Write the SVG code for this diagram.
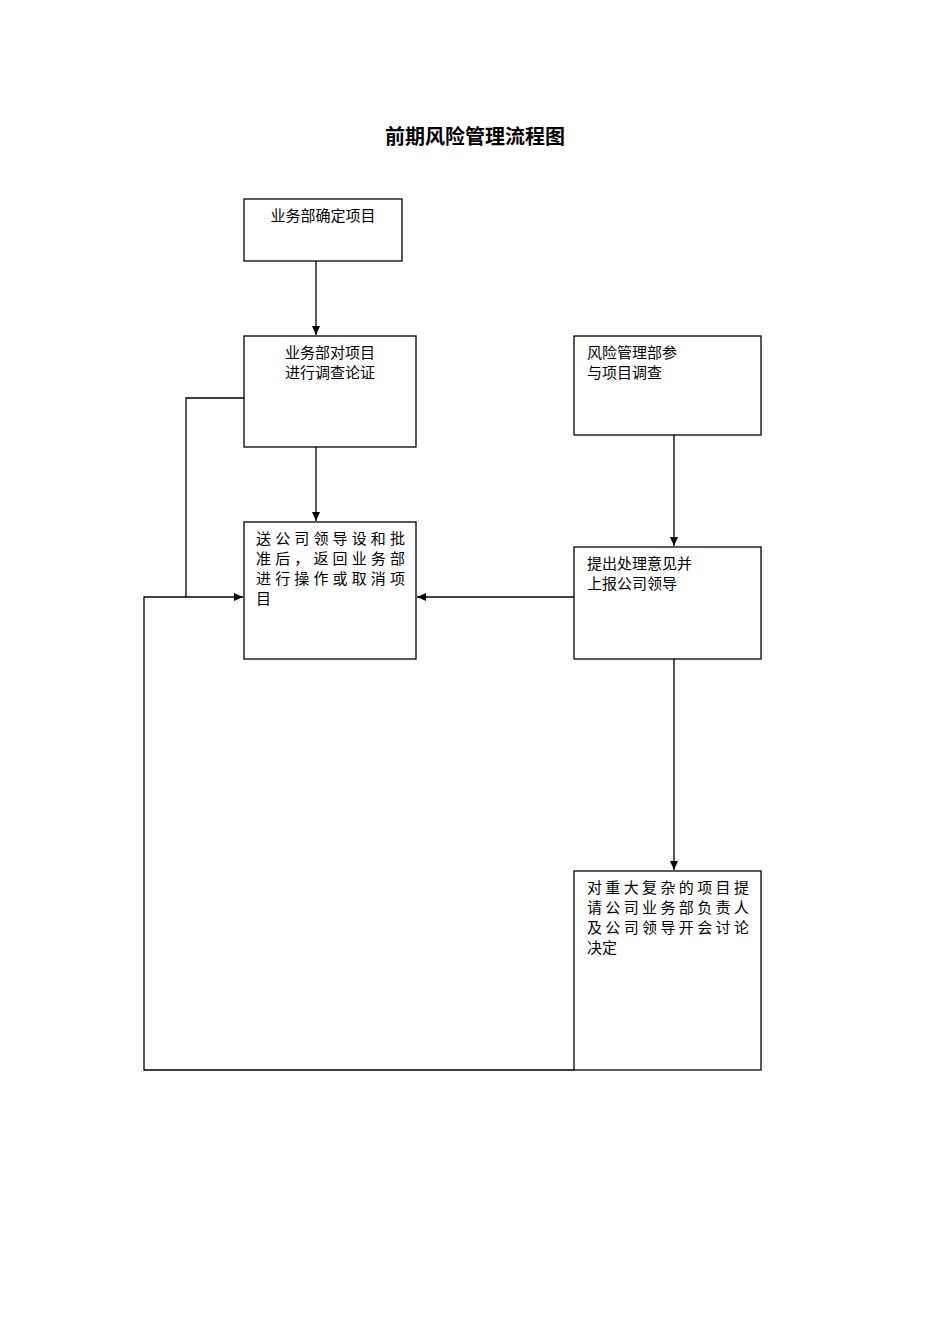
<svg xmlns="http://www.w3.org/2000/svg" width="950" height="1344" viewBox="0 0 950 1344">
<style>
.b{fill:#fff;stroke:#000;stroke-width:1.3}
.t{font-family:"Liberation Serif","Noto Sans CJK SC",serif;font-size:15px;fill:#000}
.c{fill:none;stroke:#000;stroke-width:1.3}
</style>
<defs><marker id="a" markerWidth="10" markerHeight="10" refX="9" refY="5" orient="auto" markerUnits="userSpaceOnUse"><path d="M0,1 L9,5 L0,9 Z" fill="#000"/></marker></defs>
<rect width="950" height="1344" fill="#fff"/>
<text x="475" y="144" text-anchor="middle" font-family="Liberation Serif,'Noto Sans CJK SC',serif" font-size="20" font-weight="bold">前期风险管理流程图</text>
<g id="n1"><rect class="b" x="244" y="199" width="158" height="62"/><text class="t" x="323" y="221" text-anchor="middle">业务部确定项目</text></g>
<g id="n2"><rect class="b" x="244" y="336" width="172" height="111"/><text class="t" x="330" y="358" text-anchor="middle">业务部对项目</text><text class="t" x="330" y="378" text-anchor="middle">进行调查论证</text></g>
<g id="n3"><rect class="b" x="574" y="336" width="187" height="99"/><text class="t" x="587" y="358">风险管理部参</text><text class="t" x="587" y="378">与项目调查</text></g>
<g id="n4"><rect class="b" x="244" y="522" width="172" height="137"/><text class="t" x="256" y="544" textLength="149">送公司领导设和批</text><text class="t" x="256" y="564" textLength="149">准后，返回业务部</text><text class="t" x="256" y="584" textLength="149">进行操作或取消项</text><text class="t" x="256" y="604">目</text></g>
<g id="n5"><rect class="b" x="574" y="547" width="187" height="112"/><text class="t" x="587" y="569">提出处理意见并</text><text class="t" x="587" y="589">上报公司领导</text></g>
<g id="n6"><rect class="b" x="574" y="871" width="187" height="199"/><text class="t" x="587" y="893" textLength="162">对重大复杂的项目提</text><text class="t" x="587" y="913" textLength="162">请公司业务部负责人</text><text class="t" x="587" y="933" textLength="162">及公司领导开会讨论</text><text class="t" x="587" y="953">决定</text></g>
<g id="connectors">
<path class="c" d="M316,261V335" marker-end="url(#a)"/>
<path class="c" d="M316,447V521" marker-end="url(#a)"/>
<path class="c" d="M674,435V546" marker-end="url(#a)"/>
<path class="c" d="M574,597H417" marker-end="url(#a)"/>
<path class="c" d="M674,659V870" marker-end="url(#a)"/>
<path class="c" d="M244,398H186V597H243" marker-end="url(#a)"/>
<path class="c" d="M574,1070H144V597H186"/>
</g>
</svg>
